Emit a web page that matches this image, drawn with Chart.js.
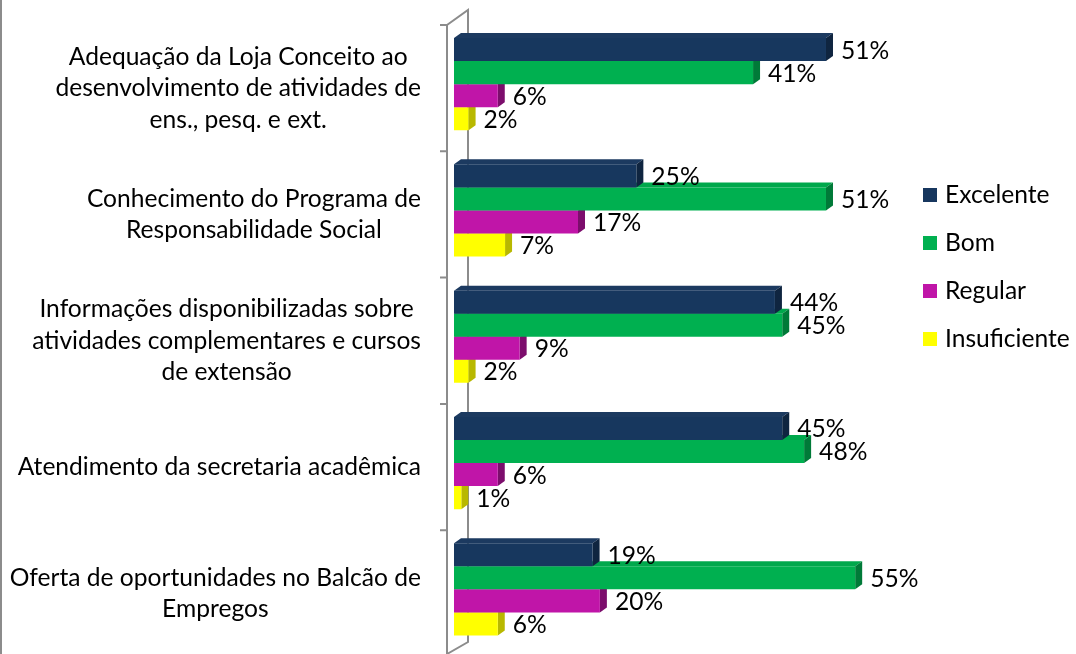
<!DOCTYPE html>
<html><head><meta charset="utf-8">
<script src="https://cdn.jsdelivr.net/npm/chart.js@4.4.1/dist/chart.umd.min.js"></script>
<style>html,body{margin:0;padding:0;background:#fff;}#wrap{width:1076px;height:654px;position:relative;}canvas{display:block;}</style>
</head><body><div id="wrap"><canvas id="c" width="1076" height="654"></canvas></div>
<script>
const categories = [
  ["Adequação da Loja Conceito ao", "desenvolvimento de atividades de", "ens., pesq. e ext."],
  ["Conhecimento do Programa de", "Responsabilidade Social"],
  ["Informações disponibilizadas sobre", "atividades complementares e cursos", "de extensão"],
  ["Atendimento da secretaria acadêmica"],
  ["Oferta de oportunidades no Balcão de", "Empregos"]
];
const seriesNames = ["Excelente", "Bom", "Regular", "Insuficiente"];
const excelente = [51, 25, 44, 45, 19];
const bom = [41, 51, 45, 48, 55];
const regular = [6, 17, 9, 6, 20];
const insuficiente = [2, 7, 2, 1, 6];
const xMax = 60;

const frontColors = ["#17375E", "#00B050", "#C015A8", "#FFFF00"];
const topColors = ["#1c3a60", "#00a84c", "#b0139a", "#eeee00"];
const sideColors = ["#0f2540", "#007a38", "#7c0d6c", "#b8b800"];
const FONT = "Lato, 'Open Sans', sans-serif";
const FS = 24.6;
const DX = 7, DY = 5;

const depthPlugin = {
  id: 'depth3d',
  beforeDatasetsDraw(chart) {
    const ctx = chart.ctx;
    ctx.save();
    for (let i = chart.data.datasets.length - 1; i >= 0; i--) {
      const meta = chart.getDatasetMeta(i);
      meta.data.forEach(bar => {
        const p = bar.getProps(['x', 'y', 'base', 'height'], true);
        const t = p.y - p.height / 2, b = p.y + p.height / 2;
        ctx.fillStyle = topColors[i];
        ctx.beginPath();
        ctx.moveTo(p.base, t); ctx.lineTo(p.base + DX, t - DY);
        ctx.lineTo(p.x + DX, t - DY); ctx.lineTo(p.x, t); ctx.closePath(); ctx.fill();
        ctx.fillStyle = sideColors[i];
        ctx.beginPath();
        ctx.moveTo(p.x, t); ctx.lineTo(p.x + DX, t - DY);
        ctx.lineTo(p.x + DX, b - DY); ctx.lineTo(p.x, b); ctx.closePath(); ctx.fill();
      });
    }
    ctx.restore();
  },
  beforeDraw(chart) {
    const ctx = chart.ctx, ca = chart.chartArea, ys = chart.scales.y;
    ctx.save();
    ctx.strokeStyle = "#8c8c8c";
    ctx.lineWidth = 2;
    const fx = ca.left - 7, bx = ca.left + 14;
    const topF = ca.top + 4, topB = ca.top - 11;
    const h = chart.height;
    ctx.beginPath();
    ctx.moveTo(fx, topF); ctx.lineTo(fx, h + 2);
    ctx.moveTo(fx, topF); ctx.lineTo(bx, topB); ctx.lineTo(bx, h - 12); ctx.lineTo(fx, h);
    ctx.stroke();
    ctx.beginPath();
    const n = categories.length;
    for (let i = 0; i <= n; i++) {
      const y = ys.getPixelForValue(i - 0.5) + 4;
      ctx.moveTo(fx - 7, y); ctx.lineTo(fx, y);
    }
    ctx.stroke();
    ctx.fillStyle = "#8c8c8c";
    ctx.fillRect(0, 0, 2, h);
    ctx.restore();
  },
  afterDatasetsDraw(chart) {
    const ctx = chart.ctx, ca = chart.chartArea, ys = chart.scales.y;
    ctx.save();
    ctx.fillStyle = "#000";
    ctx.font = FS + "px " + FONT;
    ctx.textBaseline = "middle";
    ctx.textAlign = "left";
    chart.data.datasets.forEach((ds, i) => {
      chart.getDatasetMeta(i).data.forEach((bar, j) => {
        const p = bar.getProps(['x', 'y'], true);
        ctx.fillText(ds.data[j] + "%", p.x + 15, p.y + 1);
      });
    });
    const right = ca.left - 33;
    const lh = 31.5;
    ctx.textAlign = "center";
    chart.data.labels.forEach((lines, i) => {
      const cy = ys.getPixelForValue(i) + 4;
      let maxW = 0;
      lines.forEach(l => { maxW = Math.max(maxW, ctx.measureText(l).width); });
      const cx = right - maxW / 2;
      lines.forEach((l, k) => {
        ctx.fillText(l, cx, cy + (k - (lines.length - 1) / 2) * lh);
      });
    });
    ctx.textAlign = "left";
    chart.data.datasets.forEach((ds, i) => {
      const y = 195 + i * 48;
      ctx.fillStyle = frontColors[i];
      ctx.fillRect(923, y - 7, 14, 14);
      ctx.fillStyle = "#000";
      ctx.fillText(ds.label, 945, y);
    });
    ctx.restore();
  }
};

const seriesData = [excelente, bom, regular, insuficiente];
new Chart(document.getElementById('c'), {
  type: 'bar',
  data: {
    labels: categories,
    datasets: seriesNames.map((name, i) => ({
      label: name,
      data: seriesData[i],
      backgroundColor: frontColors[i],
      borderWidth: 0,
      categoryPercentage: 0.73,
      barPercentage: 1
    }))
  },
  options: {
    indexAxis: 'y',
    responsive: false,
    animation: false,
    devicePixelRatio: 1,
    layout: { padding: { left: 454, right: 1076 - 454 - xMax * 7.294, top: 21, bottom: 1.5 } },
    scales: {
      x: { display: false, min: 0, max: xMax },
      y: { display: false }
    },
    plugins: { legend: { display: false }, tooltip: { enabled: false } }
  },
  plugins: [depthPlugin]
});
</script></body></html>
